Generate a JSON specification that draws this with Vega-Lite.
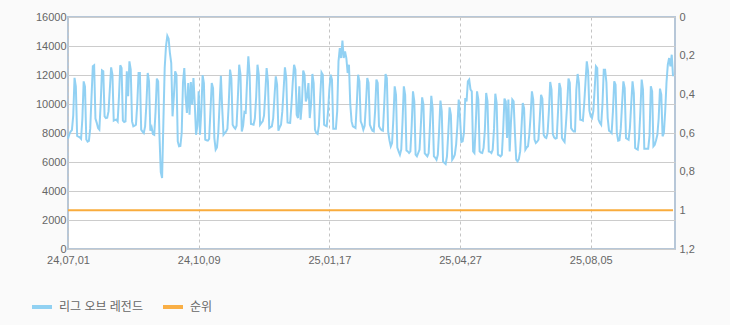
{
"$schema":"https://vega.github.io/schema/vega-lite/v6.json",
"width":607,"height":232,
"autosize":{"type":"none"},
"padding":{"left":68,"top":17,"right":55,"bottom":76},
"background":"#fafafa",
"config":{
"font":"Liberation Sans, Noto Sans CJK KR",
"view":{"fill":"#ffffff","stroke":"#b7c7d8","strokeWidth":2},
"axis":{"labelColor":"#666666","labelFontSize":11,"domain":false,"ticks":false,"title":null}
},
"data":{"values":[
{"d":"2024-07-01","v":7600,"r":1},{"d":"2024-07-02","v":7900,"r":1},{"d":"2024-07-03","v":8100,"r":1},{"d":"2024-07-04","v":8200,"r":1},{"d":"2024-07-05","v":9200,"r":1},{"d":"2024-07-06","v":11800,"r":1},{"d":"2024-07-07","v":11200,"r":1},
{"d":"2024-07-08","v":7800,"r":1},{"d":"2024-07-09","v":7750,"r":1},{"d":"2024-07-10","v":7700,"r":1},{"d":"2024-07-11","v":7600,"r":1},{"d":"2024-07-12","v":9000,"r":1},{"d":"2024-07-13","v":11560,"r":1},{"d":"2024-07-14","v":11200,"r":1},
{"d":"2024-07-15","v":7550,"r":1},{"d":"2024-07-16","v":7400,"r":1},{"d":"2024-07-17","v":7450,"r":1},{"d":"2024-07-18","v":8300,"r":1},{"d":"2024-07-19","v":10500,"r":1},{"d":"2024-07-20","v":12600,"r":1},{"d":"2024-07-21","v":12670,"r":1},
{"d":"2024-07-22","v":9000,"r":1},{"d":"2024-07-23","v":8700,"r":1},{"d":"2024-07-24","v":8340,"r":1},{"d":"2024-07-25","v":8230,"r":1},{"d":"2024-07-26","v":10000,"r":1},{"d":"2024-07-27","v":12320,"r":1},{"d":"2024-07-28","v":12250,"r":1},
{"d":"2024-07-29","v":9150,"r":1},{"d":"2024-07-30","v":9030,"r":1},{"d":"2024-07-31","v":9050,"r":1},{"d":"2024-08-01","v":9490,"r":1},{"d":"2024-08-02","v":11000,"r":1},{"d":"2024-08-03","v":12530,"r":1},{"d":"2024-08-04","v":12020,"r":1},
{"d":"2024-08-05","v":8850,"r":1},{"d":"2024-08-06","v":8900,"r":1},{"d":"2024-08-07","v":8920,"r":1},{"d":"2024-08-08","v":8800,"r":1},{"d":"2024-08-09","v":10500,"r":1},{"d":"2024-08-10","v":12670,"r":1},{"d":"2024-08-11","v":12480,"r":1},
{"d":"2024-08-12","v":8850,"r":1},{"d":"2024-08-13","v":8760,"r":1},{"d":"2024-08-14","v":8800,"r":1},{"d":"2024-08-15","v":12250,"r":1},{"d":"2024-08-16","v":10530,"r":1},{"d":"2024-08-17","v":12940,"r":1},{"d":"2024-08-18","v":12370,"r":1},
{"d":"2024-08-19","v":8800,"r":1},{"d":"2024-08-20","v":8460,"r":1},{"d":"2024-08-21","v":8500,"r":1},{"d":"2024-08-22","v":8570,"r":1},{"d":"2024-08-23","v":10000,"r":1},{"d":"2024-08-24","v":12140,"r":1},{"d":"2024-08-25","v":12140,"r":1},
{"d":"2024-08-26","v":8230,"r":1},{"d":"2024-08-27","v":8100,"r":1},{"d":"2024-08-28","v":8000,"r":1},{"d":"2024-08-29","v":8460,"r":1},{"d":"2024-08-30","v":10000,"r":1},{"d":"2024-08-31","v":12140,"r":1},{"d":"2024-09-01","v":11560,"r":1},
{"d":"2024-09-02","v":8160,"r":1},{"d":"2024-09-03","v":8390,"r":1},{"d":"2024-09-04","v":7930,"r":1},{"d":"2024-09-05","v":7880,"r":1},{"d":"2024-09-06","v":9500,"r":1},{"d":"2024-09-07","v":11750,"r":1},{"d":"2024-09-08","v":11560,"r":1},
{"d":"2024-09-09","v":7800,"r":1},{"d":"2024-09-10","v":5300,"r":1},{"d":"2024-09-11","v":4900,"r":1},{"d":"2024-09-12","v":8800,"r":1},{"d":"2024-09-13","v":12500,"r":1},{"d":"2024-09-14","v":14000,"r":1},{"d":"2024-09-15","v":14700,"r":1},
{"d":"2024-09-16","v":14500,"r":1},{"d":"2024-09-17","v":13500,"r":1},{"d":"2024-09-18","v":12830,"r":1},{"d":"2024-09-19","v":9150,"r":1},{"d":"2024-09-20","v":10500,"r":1},{"d":"2024-09-21","v":12250,"r":1},{"d":"2024-09-22","v":12020,"r":1},
{"d":"2024-09-23","v":7420,"r":1},{"d":"2024-09-24","v":7080,"r":1},{"d":"2024-09-25","v":7100,"r":1},{"d":"2024-09-26","v":8000,"r":1},{"d":"2024-09-27","v":11500,"r":1},{"d":"2024-09-28","v":12480,"r":1},{"d":"2024-09-29","v":10500,"r":1},
{"d":"2024-09-30","v":9380,"r":1},{"d":"2024-10-01","v":11450,"r":1},{"d":"2024-10-02","v":9260,"r":1},{"d":"2024-10-03","v":11520,"r":1},{"d":"2024-10-04","v":9950,"r":1},{"d":"2024-10-05","v":11790,"r":1},{"d":"2024-10-06","v":10000,"r":1},
{"d":"2024-10-07","v":7880,"r":1},{"d":"2024-10-08","v":8500,"r":1},{"d":"2024-10-09","v":10870,"r":1},{"d":"2024-10-10","v":7880,"r":1},{"d":"2024-10-11","v":9500,"r":1},{"d":"2024-10-12","v":11980,"r":1},{"d":"2024-10-13","v":11450,"r":1},
{"d":"2024-10-14","v":7540,"r":1},{"d":"2024-10-15","v":7500,"r":1},{"d":"2024-10-16","v":7470,"r":1},{"d":"2024-10-17","v":7600,"r":1},{"d":"2024-10-18","v":9500,"r":1},{"d":"2024-10-19","v":11450,"r":1},{"d":"2024-10-20","v":11100,"r":1},
{"d":"2024-10-21","v":7650,"r":1},{"d":"2024-10-22","v":6850,"r":1},{"d":"2024-10-23","v":7000,"r":1},{"d":"2024-10-24","v":8000,"r":1},{"d":"2024-10-25","v":10000,"r":1},{"d":"2024-10-26","v":11950,"r":1},{"d":"2024-10-27","v":9720,"r":1},
{"d":"2024-10-28","v":7880,"r":1},{"d":"2024-10-29","v":8000,"r":1},{"d":"2024-10-30","v":8110,"r":1},{"d":"2024-10-31","v":8300,"r":1},{"d":"2024-11-01","v":10000,"r":1},{"d":"2024-11-02","v":12370,"r":1},{"d":"2024-11-03","v":11790,"r":1},
{"d":"2024-11-04","v":8570,"r":1},{"d":"2024-11-05","v":8400,"r":1},{"d":"2024-11-06","v":8300,"r":1},{"d":"2024-11-07","v":8500,"r":1},{"d":"2024-11-08","v":10500,"r":1},{"d":"2024-11-09","v":12710,"r":1},{"d":"2024-11-10","v":12020,"r":1},
{"d":"2024-11-11","v":8110,"r":1},{"d":"2024-11-12","v":8500,"r":1},{"d":"2024-11-13","v":9450,"r":1},{"d":"2024-11-14","v":9400,"r":1},{"d":"2024-11-15","v":11500,"r":1},{"d":"2024-11-16","v":13290,"r":1},{"d":"2024-11-17","v":12020,"r":1},
{"d":"2024-11-18","v":8620,"r":1},{"d":"2024-11-19","v":8600,"r":1},{"d":"2024-11-20","v":8570,"r":1},{"d":"2024-11-21","v":9000,"r":1},{"d":"2024-11-22","v":10500,"r":1},{"d":"2024-11-23","v":12710,"r":1},{"d":"2024-11-24","v":12020,"r":1},
{"d":"2024-11-25","v":8570,"r":1},{"d":"2024-11-26","v":8700,"r":1},{"d":"2024-11-27","v":8800,"r":1},{"d":"2024-11-28","v":9200,"r":1},{"d":"2024-11-29","v":10800,"r":1},{"d":"2024-11-30","v":12480,"r":1},{"d":"2024-12-01","v":11560,"r":1},
{"d":"2024-12-02","v":8340,"r":1},{"d":"2024-12-03","v":8400,"r":1},{"d":"2024-12-04","v":8460,"r":1},{"d":"2024-12-05","v":9000,"r":1},{"d":"2024-12-06","v":10500,"r":1},{"d":"2024-12-07","v":11910,"r":1},{"d":"2024-12-08","v":11330,"r":1},
{"d":"2024-12-09","v":8160,"r":1},{"d":"2024-12-10","v":8400,"r":1},{"d":"2024-12-11","v":8570,"r":1},{"d":"2024-12-12","v":9490,"r":1},{"d":"2024-12-13","v":11000,"r":1},{"d":"2024-12-14","v":12530,"r":1},{"d":"2024-12-15","v":11790,"r":1},
{"d":"2024-12-16","v":8730,"r":1},{"d":"2024-12-17","v":8700,"r":1},{"d":"2024-12-18","v":8690,"r":1},{"d":"2024-12-19","v":9950,"r":1},{"d":"2024-12-20","v":11500,"r":1},{"d":"2024-12-21","v":12710,"r":1},{"d":"2024-12-22","v":12370,"r":1},
{"d":"2024-12-23","v":9260,"r":1},{"d":"2024-12-24","v":9030,"r":1},{"d":"2024-12-25","v":11220,"r":1},{"d":"2024-12-26","v":8920,"r":1},{"d":"2024-12-27","v":10000,"r":1},{"d":"2024-12-28","v":12300,"r":1},{"d":"2024-12-29","v":12020,"r":1},
{"d":"2024-12-30","v":10180,"r":1},{"d":"2024-12-31","v":10500,"r":1},{"d":"2025-01-01","v":11450,"r":1},{"d":"2025-01-02","v":9030,"r":1},{"d":"2025-01-03","v":10000,"r":1},{"d":"2025-01-04","v":12070,"r":1},{"d":"2025-01-05","v":11450,"r":1},
{"d":"2025-01-06","v":8230,"r":1},{"d":"2025-01-07","v":8000,"r":1},{"d":"2025-01-08","v":7930,"r":1},{"d":"2025-01-09","v":8500,"r":1},{"d":"2025-01-10","v":10500,"r":1},{"d":"2025-01-11","v":12180,"r":1},{"d":"2025-01-12","v":12020,"r":1},
{"d":"2025-01-13","v":8570,"r":1},{"d":"2025-01-14","v":8500,"r":1},{"d":"2025-01-15","v":8460,"r":1},{"d":"2025-01-16","v":9500,"r":1},{"d":"2025-01-17","v":11000,"r":1},{"d":"2025-01-18","v":12020,"r":1},{"d":"2025-01-19","v":11680,"r":1},
{"d":"2025-01-20","v":8300,"r":1},{"d":"2025-01-21","v":8300,"r":1},{"d":"2025-01-22","v":8300,"r":1},{"d":"2025-01-23","v":9500,"r":1},{"d":"2025-01-24","v":12940,"r":1},{"d":"2025-01-25","v":13860,"r":1},{"d":"2025-01-26","v":13170,"r":1},
{"d":"2025-01-27","v":14370,"r":1},{"d":"2025-01-28","v":13170,"r":1},{"d":"2025-01-29","v":13630,"r":1},{"d":"2025-01-30","v":13170,"r":1},{"d":"2025-01-31","v":12140,"r":1},{"d":"2025-02-01","v":12710,"r":1},{"d":"2025-02-02","v":10000,"r":1},
{"d":"2025-02-03","v":8800,"r":1},{"d":"2025-02-04","v":8460,"r":1},{"d":"2025-02-05","v":8400,"r":1},{"d":"2025-02-06","v":8340,"r":1},{"d":"2025-02-07","v":10000,"r":1},{"d":"2025-02-08","v":12020,"r":1},{"d":"2025-02-09","v":11560,"r":1},
{"d":"2025-02-10","v":8800,"r":1},{"d":"2025-02-11","v":8570,"r":1},{"d":"2025-02-12","v":8230,"r":1},{"d":"2025-02-13","v":8500,"r":1},{"d":"2025-02-14","v":10000,"r":1},{"d":"2025-02-15","v":11790,"r":1},{"d":"2025-02-16","v":11450,"r":1},
{"d":"2025-02-17","v":8570,"r":1},{"d":"2025-02-18","v":8340,"r":1},{"d":"2025-02-19","v":8160,"r":1},{"d":"2025-02-20","v":8110,"r":1},{"d":"2025-02-21","v":9500,"r":1},{"d":"2025-02-22","v":11680,"r":1},{"d":"2025-02-23","v":11450,"r":1},
{"d":"2025-02-24","v":8460,"r":1},{"d":"2025-02-25","v":8300,"r":1},{"d":"2025-02-26","v":8200,"r":1},{"d":"2025-02-27","v":8160,"r":1},{"d":"2025-02-28","v":10000,"r":1},{"d":"2025-03-01","v":12070,"r":1},{"d":"2025-03-02","v":11790,"r":1},
{"d":"2025-03-03","v":8110,"r":1},{"d":"2025-03-04","v":7500,"r":1},{"d":"2025-03-05","v":7080,"r":1},{"d":"2025-03-06","v":7310,"r":1},{"d":"2025-03-07","v":9000,"r":1},{"d":"2025-03-08","v":11220,"r":1},{"d":"2025-03-09","v":10640,"r":1},
{"d":"2025-03-10","v":7000,"r":1},{"d":"2025-03-11","v":6730,"r":1},{"d":"2025-03-12","v":6500,"r":1},{"d":"2025-03-13","v":6850,"r":1},{"d":"2025-03-14","v":8800,"r":1},{"d":"2025-03-15","v":11220,"r":1},{"d":"2025-03-16","v":10640,"r":1},
{"d":"2025-03-17","v":6800,"r":1},{"d":"2025-03-18","v":6730,"r":1},{"d":"2025-03-19","v":6620,"r":1},{"d":"2025-03-20","v":6730,"r":1},{"d":"2025-03-21","v":8500,"r":1},{"d":"2025-03-22","v":10870,"r":1},{"d":"2025-03-23","v":10180,"r":1},
{"d":"2025-03-24","v":6500,"r":1},{"d":"2025-03-25","v":6390,"r":1},{"d":"2025-03-26","v":6620,"r":1},{"d":"2025-03-27","v":6850,"r":1},{"d":"2025-03-28","v":8500,"r":1},{"d":"2025-03-29","v":10460,"r":1},{"d":"2025-03-30","v":9950,"r":1},
{"d":"2025-03-31","v":6600,"r":1},{"d":"2025-04-01","v":6500,"r":1},{"d":"2025-04-02","v":6390,"r":1},{"d":"2025-04-03","v":6620,"r":1},{"d":"2025-04-04","v":8500,"r":1},{"d":"2025-04-05","v":10570,"r":1},{"d":"2025-04-06","v":9720,"r":1},
{"d":"2025-04-07","v":6390,"r":1},{"d":"2025-04-08","v":6300,"r":1},{"d":"2025-04-09","v":6160,"r":1},{"d":"2025-04-10","v":6500,"r":1},{"d":"2025-04-11","v":8200,"r":1},{"d":"2025-04-12","v":10230,"r":1},{"d":"2025-04-13","v":9490,"r":1},
{"d":"2025-04-14","v":6040,"r":1},{"d":"2025-04-15","v":5950,"r":1},{"d":"2025-04-16","v":5860,"r":1},{"d":"2025-04-17","v":6390,"r":1},{"d":"2025-04-18","v":8000,"r":1},{"d":"2025-04-19","v":9770,"r":1},{"d":"2025-04-20","v":9260,"r":1},
{"d":"2025-04-21","v":6160,"r":1},{"d":"2025-04-22","v":6300,"r":1},{"d":"2025-04-23","v":6500,"r":1},{"d":"2025-04-24","v":7200,"r":1},{"d":"2025-04-25","v":8500,"r":1},{"d":"2025-04-26","v":10300,"r":1},{"d":"2025-04-27","v":9030,"r":1},
{"d":"2025-04-28","v":7380,"r":1},{"d":"2025-04-29","v":7420,"r":1},{"d":"2025-04-30","v":8000,"r":1},{"d":"2025-05-01","v":10410,"r":1},{"d":"2025-05-02","v":10180,"r":1},{"d":"2025-05-03","v":11560,"r":1},{"d":"2025-05-04","v":11680,"r":1},
{"d":"2025-05-05","v":11000,"r":1},{"d":"2025-05-06","v":10870,"r":1},{"d":"2025-05-07","v":6730,"r":1},{"d":"2025-05-08","v":6620,"r":1},{"d":"2025-05-09","v":8500,"r":1},{"d":"2025-05-10","v":10870,"r":1},{"d":"2025-05-11","v":10300,"r":1},
{"d":"2025-05-12","v":6730,"r":1},{"d":"2025-05-13","v":6650,"r":1},{"d":"2025-05-14","v":6620,"r":1},{"d":"2025-05-15","v":6960,"r":1},{"d":"2025-05-16","v":8200,"r":1},{"d":"2025-05-17","v":10760,"r":1},{"d":"2025-05-18","v":10180,"r":1},
{"d":"2025-05-19","v":6730,"r":1},{"d":"2025-05-20","v":6700,"r":1},{"d":"2025-05-21","v":6620,"r":1},{"d":"2025-05-22","v":6850,"r":1},{"d":"2025-05-23","v":8300,"r":1},{"d":"2025-05-24","v":10710,"r":1},{"d":"2025-05-25","v":10070,"r":1},
{"d":"2025-05-26","v":6500,"r":1},{"d":"2025-05-27","v":6450,"r":1},{"d":"2025-05-28","v":6390,"r":1},{"d":"2025-05-29","v":6500,"r":1},{"d":"2025-05-30","v":8200,"r":1},{"d":"2025-05-31","v":10370,"r":1},{"d":"2025-06-01","v":10180,"r":1},
{"d":"2025-06-02","v":7650,"r":1},{"d":"2025-06-03","v":10300,"r":1},{"d":"2025-06-04","v":6730,"r":1},{"d":"2025-06-05","v":8800,"r":1},{"d":"2025-06-06","v":10300,"r":1},{"d":"2025-06-07","v":10180,"r":1},{"d":"2025-06-08","v":8000,"r":1},
{"d":"2025-06-09","v":6160,"r":1},{"d":"2025-06-10","v":6040,"r":1},{"d":"2025-06-11","v":6200,"r":1},{"d":"2025-06-12","v":6730,"r":1},{"d":"2025-06-13","v":8300,"r":1},{"d":"2025-06-14","v":10070,"r":1},{"d":"2025-06-15","v":9720,"r":1},
{"d":"2025-06-16","v":6850,"r":1},{"d":"2025-06-17","v":7000,"r":1},{"d":"2025-06-18","v":7080,"r":1},{"d":"2025-06-19","v":7880,"r":1},{"d":"2025-06-20","v":9200,"r":1},{"d":"2025-06-21","v":10870,"r":1},{"d":"2025-06-22","v":10300,"r":1},
{"d":"2025-06-23","v":7540,"r":1},{"d":"2025-06-24","v":7310,"r":1},{"d":"2025-06-25","v":7400,"r":1},{"d":"2025-06-26","v":7540,"r":1},{"d":"2025-06-27","v":9000,"r":1},{"d":"2025-06-28","v":10640,"r":1},{"d":"2025-06-29","v":10370,"r":1},
{"d":"2025-06-30","v":7880,"r":1},{"d":"2025-07-01","v":7700,"r":1},{"d":"2025-07-02","v":7650,"r":1},{"d":"2025-07-03","v":8000,"r":1},{"d":"2025-07-04","v":9500,"r":1},{"d":"2025-07-05","v":11520,"r":1},{"d":"2025-07-06","v":10990,"r":1},
{"d":"2025-07-07","v":7930,"r":1},{"d":"2025-07-08","v":7700,"r":1},{"d":"2025-07-09","v":7610,"r":1},{"d":"2025-07-10","v":7650,"r":1},{"d":"2025-07-11","v":9500,"r":1},{"d":"2025-07-12","v":11450,"r":1},{"d":"2025-07-13","v":11060,"r":1},
{"d":"2025-07-14","v":7650,"r":1},{"d":"2025-07-15","v":7500,"r":1},{"d":"2025-07-16","v":7380,"r":1},{"d":"2025-07-17","v":8570,"r":1},{"d":"2025-07-18","v":10000,"r":1},{"d":"2025-07-19","v":11750,"r":1},{"d":"2025-07-20","v":11450,"r":1},
{"d":"2025-07-21","v":8340,"r":1},{"d":"2025-07-22","v":8200,"r":1},{"d":"2025-07-23","v":8110,"r":1},{"d":"2025-07-24","v":8110,"r":1},{"d":"2025-07-25","v":11000,"r":1},{"d":"2025-07-26","v":12070,"r":1},{"d":"2025-07-27","v":11450,"r":1},
{"d":"2025-07-28","v":8920,"r":1},{"d":"2025-07-29","v":8900,"r":1},{"d":"2025-07-30","v":8850,"r":1},{"d":"2025-07-31","v":10000,"r":1},{"d":"2025-08-01","v":11500,"r":1},{"d":"2025-08-02","v":12940,"r":1},{"d":"2025-08-03","v":12250,"r":1},
{"d":"2025-08-04","v":9540,"r":1},{"d":"2025-08-05","v":9150,"r":1},{"d":"2025-08-06","v":9030,"r":1},{"d":"2025-08-07","v":9500,"r":1},{"d":"2025-08-08","v":11000,"r":1},{"d":"2025-08-09","v":12600,"r":1},{"d":"2025-08-10","v":12480,"r":1},
{"d":"2025-08-11","v":8920,"r":1},{"d":"2025-08-12","v":8700,"r":1},{"d":"2025-08-13","v":8570,"r":1},{"d":"2025-08-14","v":10000,"r":1},{"d":"2025-08-15","v":12370,"r":1},{"d":"2025-08-16","v":12370,"r":1},{"d":"2025-08-17","v":11500,"r":1},
{"d":"2025-08-18","v":9030,"r":1},{"d":"2025-08-19","v":8160,"r":1},{"d":"2025-08-20","v":8100,"r":1},{"d":"2025-08-21","v":8000,"r":1},{"d":"2025-08-22","v":9500,"r":1},{"d":"2025-08-23","v":11560,"r":1},{"d":"2025-08-24","v":11330,"r":1},
{"d":"2025-08-25","v":8000,"r":1},{"d":"2025-08-26","v":7470,"r":1},{"d":"2025-08-27","v":7500,"r":1},{"d":"2025-08-28","v":8300,"r":1},{"d":"2025-08-29","v":10000,"r":1},{"d":"2025-08-30","v":11560,"r":1},{"d":"2025-08-31","v":11100,"r":1},
{"d":"2025-09-01","v":7650,"r":1},{"d":"2025-09-02","v":7600,"r":1},{"d":"2025-09-03","v":7540,"r":1},{"d":"2025-09-04","v":8340,"r":1},{"d":"2025-09-05","v":10000,"r":1},{"d":"2025-09-06","v":11560,"r":1},{"d":"2025-09-07","v":10760,"r":1},
{"d":"2025-09-08","v":6960,"r":1},{"d":"2025-09-09","v":6900,"r":1},{"d":"2025-09-10","v":6850,"r":1},{"d":"2025-09-11","v":7650,"r":1},{"d":"2025-09-12","v":9500,"r":1},{"d":"2025-09-13","v":11680,"r":1},{"d":"2025-09-14","v":10990,"r":1},
{"d":"2025-09-15","v":6920,"r":1},{"d":"2025-09-16","v":6920,"r":1},{"d":"2025-09-17","v":6920,"r":1},{"d":"2025-09-18","v":6920,"r":1},{"d":"2025-09-19","v":7800,"r":1},{"d":"2025-09-20","v":11220,"r":1},{"d":"2025-09-21","v":10870,"r":1},
{"d":"2025-09-22","v":7080,"r":1},{"d":"2025-09-23","v":7190,"r":1},{"d":"2025-09-24","v":7500,"r":1},{"d":"2025-09-25","v":7880,"r":1},{"d":"2025-09-26","v":9000,"r":1},{"d":"2025-09-27","v":11060,"r":1},{"d":"2025-09-28","v":10640,"r":1},
{"d":"2025-09-29","v":7770,"r":1},{"d":"2025-09-30","v":8000,"r":1},{"d":"2025-10-01","v":9500,"r":1},{"d":"2025-10-02","v":11500,"r":1},{"d":"2025-10-03","v":12710,"r":1},{"d":"2025-10-04","v":13170,"r":1},{"d":"2025-10-05","v":12600,"r":1},
{"d":"2025-10-06","v":13400,"r":1},{"d":"2025-10-07","v":11910,"r":1}
]},
"encoding":{
"x":{"field":"d","type":"temporal",
"scale":{"type":"utc","domain":[{"year":2024,"month":7,"date":1,"utc":true},{"year":2025,"month":10,"date":8,"hours":12,"utc":true}]},
"axis":{"values":[{"year":2024,"month":7,"date":1,"utc":true},{"year":2024,"month":10,"date":9,"utc":true},{"year":2025,"month":1,"date":17,"utc":true},{"year":2025,"month":4,"date":27,"utc":true},{"year":2025,"month":8,"date":5,"utc":true}],
"labelExpr":"utcFormat(datum.value,'%y,%m,%d')","labelFlush":false,"labelOverlap":false,"labelPadding":5,
"grid":true,"gridColor":"#c4c4c4","gridDash":[3,3],"gridWidth":1}}
},
"layer":[
{"mark":{"type":"line","strokeWidth":2,"opacity":0.95},
"encoding":{
"y":{"field":"v","type":"quantitative","scale":{"domain":[0,16000],"nice":false},
"axis":{"values":[0,2000,4000,6000,8000,10000,12000,14000,16000],"format":"d","grid":true,"gridColor":"#cccccc","labelPadding":2}},
"color":{"datum":"리그 오브 레전드","type":"nominal",
"scale":{"domain":["리그 오브 레전드","순위"],"range":["#8ccff2","#f9ac3d"]},
"legend":{"orient":"none","legendX":-38,"legendY":278,"direction":"horizontal","title":null,"symbolType":"stroke","symbolSize":400,"symbolStrokeWidth":4,"labelFontSize":12,"labelColor":"#666666","labelOffset":5,"columnPadding":12,"padding":0}}}},
{"mark":{"type":"line","strokeWidth":2},
"encoding":{
"y":{"field":"r","type":"quantitative","scale":{"domain":[0,1.2],"reverse":true,"nice":false,"zero":false},
"axis":{"orient":"right","values":[0,0.2,0.4,0.6,0.8,1,1.2],"labelExpr":"replace(format(datum.value,'~g'),'.',',')","grid":false,"labelPadding":4}},
"color":{"datum":"순위","type":"nominal"}}}
],
"resolve":{"scale":{"y":"independent"}}
}
